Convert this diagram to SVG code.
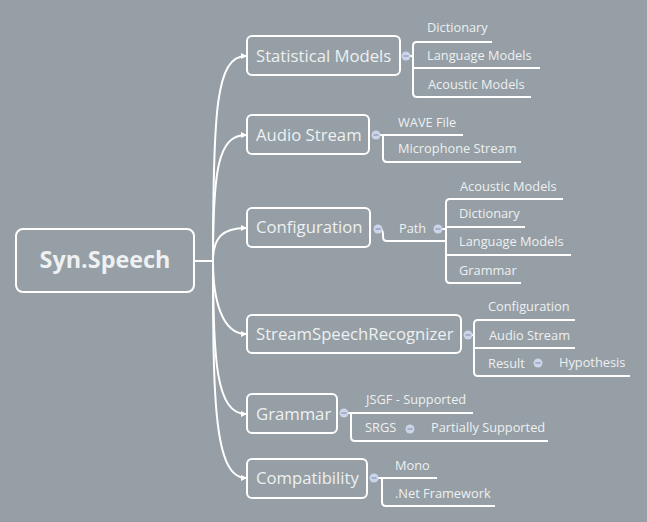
<svg xmlns="http://www.w3.org/2000/svg" width="647" height="522" viewBox="0 0 647 522">
<defs>
<style>
.bg{fill:#959fa5}
.box{fill:none;stroke:#ffffff;stroke-width:2}
.ln{fill:none;stroke:#ffffff;stroke-width:2}
.t{font-family:"Open Sans","Noto Sans",sans-serif;fill:#eef0f1}
.main{font-size:16.7px}
.sub{font-size:12.8px}
.root{font-size:23.4px;font-weight:bold}
.btn{fill:#cbd4e8}
.minus{stroke:#8f9bb6;stroke-width:1.3}
</style>
<marker id="arr" markerWidth="6" markerHeight="6" refX="5" refY="3" orient="auto" markerUnits="userSpaceOnUse">
<path d="M0,0 L6,3 L0,6 z" fill="#ffffff"/>
</marker>
<g id="btnshape"><circle class="btn" r="4.5"/><line class="minus" x1="-2.5" y1="0" x2="2.5" y2="0"/></g>
</defs>
<rect class="bg" x="0" y="0" width="647" height="522"/>

<g id="connectors">
<path class="ln" d="M194,261 H213"/>
<path class="ln" marker-end="url(#arr)" d="M213,261 C213,110 216,56 246,56"/>
<path class="ln" marker-end="url(#arr)" d="M213,261 C213,170 218,135 246,135"/>
<path class="ln" marker-end="url(#arr)" d="M213,261 C213,238 222,228 246,228"/>
<path class="ln" marker-end="url(#arr)" d="M213,261 C213,300 222,334 246,334"/>
<path class="ln" marker-end="url(#arr)" d="M213,261 C213,360 216,414 246,414"/>
<path class="ln" marker-end="url(#arr)" d="M213,261 C213,400 214,478 246,478"/>

<path class="ln" d="M406,56 H413"/>
<path class="ln" d="M492,42 H417 Q413,42 413,46 V93 Q413,97 417,97 H531"/>
<path class="ln" d="M413,68 H540"/>

<path class="ln" d="M376,135 H463"/>
<path class="ln" d="M383,135 V158 Q383,162 387,162 H521"/>

<path class="ln" d="M378,229 Q383,229 383,234 V237 Q383,241 387,241 H446"/>
<path class="ln" d="M438,229 H446"/>
<path class="ln" d="M563,199 H450 Q446,199 446,203 V279 Q446,283 450,283 H521"/>
<path class="ln" d="M446,227 H525"/>
<path class="ln" d="M446,255 H571"/>

<path class="ln" d="M468,335 H474"/>
<path class="ln" d="M575,320 H478 Q474,320 474,324 V372 Q474,376 478,376 H630"/>
<path class="ln" d="M474,348 H575"/>

<path class="ln" d="M344,413 H473"/>
<path class="ln" d="M351,413 V437 Q351,441 355,441 H548"/>

<path class="ln" d="M374,478 H437"/>
<path class="ln" d="M382,478 V502 Q382,506 386,506 H495"/>
</g>

<g id="root">
<rect class="box" x="16" y="229" width="178" height="63" rx="7"/>
<text class="t root" x="105" y="268" text-anchor="middle">Syn.Speech</text>
</g>

<g id="statistical-models">
<rect class="box" x="247" y="36" width="153" height="39" rx="5"/>
<text class="t main" x="256" y="62">Statistical Models</text>
<use href="#btnshape" x="406" y="56"/>
</g>
<g id="sm-dictionary"><text class="t sub" x="427" y="32">Dictionary</text></g>
<g id="sm-language"><text class="t sub" x="427" y="60">Language Models</text></g>
<g id="sm-acoustic"><text class="t sub" x="428" y="89">Acoustic Models</text></g>

<g id="audio-stream">
<rect class="box" x="247" y="115" width="122" height="39" rx="5"/>
<text class="t main" x="256" y="141">Audio Stream</text>
<use href="#btnshape" x="376" y="135"/>
</g>
<g id="as-wave"><text class="t sub" x="398" y="127">WAVE File</text></g>
<g id="as-mic"><text class="t sub" x="398" y="153">Microphone Stream</text></g>

<g id="configuration">
<rect class="box" x="247" y="208" width="123" height="39" rx="5"/>
<text class="t main" x="256" y="233">Configuration</text>
<use href="#btnshape" x="378" y="229"/>
</g>
<g id="cfg-path">
<text class="t sub" x="399" y="233">Path</text>
<use href="#btnshape" x="438" y="229"/>
</g>
<g id="path-acoustic"><text class="t sub" x="460" y="191">Acoustic Models</text></g>
<g id="path-dictionary"><text class="t sub" x="459" y="218">Dictionary</text></g>
<g id="path-language"><text class="t sub" x="459" y="246">Language Models</text></g>
<g id="path-grammar"><text class="t sub" x="459" y="275">Grammar</text></g>

<g id="stream-speech-recognizer">
<rect class="box" x="247" y="315" width="214" height="38" rx="5"/>
<text class="t main" x="256" y="340">StreamSpeechRecognizer</text>
<use href="#btnshape" x="468" y="335"/>
</g>
<g id="ssr-config"><text class="t sub" x="488" y="311">Configuration</text></g>
<g id="ssr-audio"><text class="t sub" x="489" y="340">Audio Stream</text></g>
<g id="ssr-result">
<text class="t sub" x="488" y="368">Result</text>
<use href="#btnshape" x="538" y="363"/>
</g>
<g id="result-hypothesis"><text class="t sub" x="559" y="367">Hypothesis</text></g>

<g id="grammar">
<rect class="box" x="247" y="394" width="90" height="39" rx="5"/>
<text class="t main" x="256" y="420">Grammar</text>
<use href="#btnshape" x="344" y="413"/>
</g>
<g id="gr-jsgf"><text class="t sub" x="366" y="404">JSGF - Supported</text></g>
<g id="gr-srgs">
<text class="t sub" x="365" y="432">SRGS</text>
<use href="#btnshape" x="410" y="429"/>
</g>
<g id="srgs-partial"><text class="t sub" x="431" y="432">Partially Supported</text></g>

<g id="compatibility">
<rect class="box" x="247" y="459" width="120" height="39" rx="5"/>
<text class="t main" x="256" y="484">Compatibility</text>
<use href="#btnshape" x="374" y="478"/>
</g>
<g id="cp-mono"><text class="t sub" x="395" y="470">Mono</text></g>
<g id="cp-net"><text class="t sub" x="395" y="498">.Net Framework</text></g>
</svg>
